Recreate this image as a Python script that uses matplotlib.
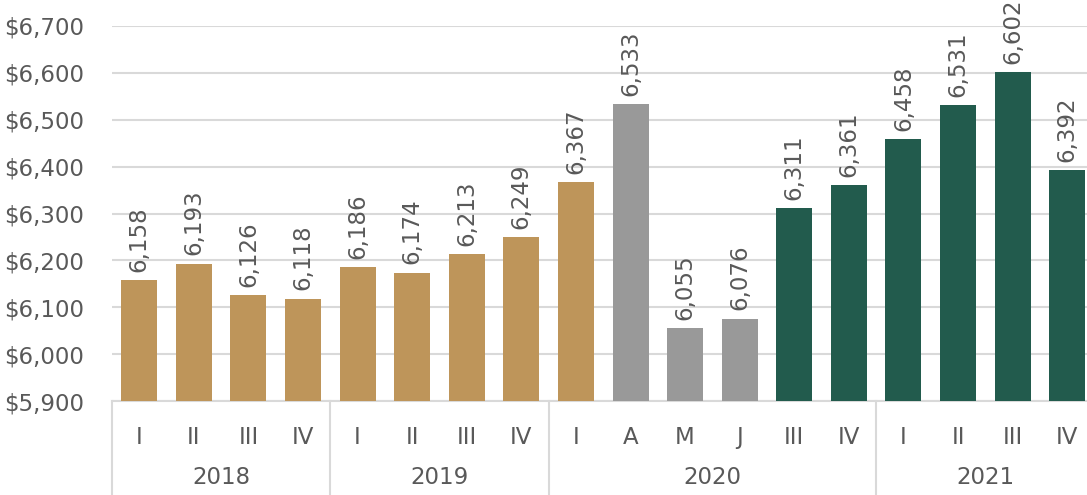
import matplotlib.pyplot as plt
from matplotlib.ticker import FuncFormatter

# Wartości z wykresu
periods = ["I", "II", "III", "IV", "I", "II", "III", "IV",
           "I", "A", "M", "J", "III", "IV",
           "I", "II", "III", "IV"]
values = [6158, 6193, 6126, 6118, 6186, 6174, 6213, 6249,
          6367, 6533, 6055, 6076, 6311, 6361,
          6458, 6531, 6602, 6392]
groups = ["gold"] * 9 + ["gray"] * 3 + ["green"] * 6
years = ["2018", "2019", "2020", "2021"]
year_sizes = [4, 4, 6, 4]

COLORS = {"gold": "#BE955A", "gray": "#999999", "green": "#225B4D"}
TEXT = "#595959"
GRID = "#D9D9D9"
FS = 16.5

plt.rcParams["font.family"] = ["DejaVu Sans"]

fig = plt.figure(figsize=(10.87, 4.95), dpi=100)
ax = fig.add_axes([112 / 1087, 1 - 401 / 495, (1094.5 - 112) / 1087, (401 - 26) / 495])

x = list(range(len(values)))
ax.bar(x, values, width=0.66, color=[COLORS[g] for g in groups], zorder=3)

for xi, v in zip(x, values):
    ax.annotate(f"{v:,}", (xi, v), xytext=(0, 6), textcoords="offset points",
                rotation=90, ha="center", va="bottom", fontsize=FS,
                color=TEXT, clip_on=False, annotation_clip=False)

ax.set_ylim(5900, 6700)
ax.set_xlim(-0.5, len(values) - 0.5)
ax.set_yticks(range(5900, 6701, 100))
ax.yaxis.set_major_formatter(FuncFormatter(lambda v, _: f"${v:,.0f}"))
ax.tick_params(axis="y", length=0, pad=20, labelsize=FS, labelcolor=TEXT)
ax.grid(axis="y", color=GRID, linewidth=1.5, zorder=0)

for s in ["top", "right", "left"]:
    ax.spines[s].set_visible(False)
ax.spines["bottom"].set_color(GRID)
ax.spines["bottom"].set_linewidth(1.5)

ax.set_xticks(x)
ax.set_xticklabels(periods)
ax.tick_params(axis="x", length=0, pad=18, labelsize=FS, labelcolor=TEXT)

# Druga warstwa osi: lata i separatory
trans = ax.get_xaxis_transform()
start = -0.5
for year, n in zip(years, year_sizes):
    ax.plot([start, start], [0, -0.26], transform=trans, color=GRID,
            linewidth=1.5, clip_on=False)
    ax.text(start + n / 2, -0.205, year, transform=trans, ha="center",
            va="center", fontsize=FS, color=TEXT)
    start += n

fig.savefig("out.png", dpi=100)
